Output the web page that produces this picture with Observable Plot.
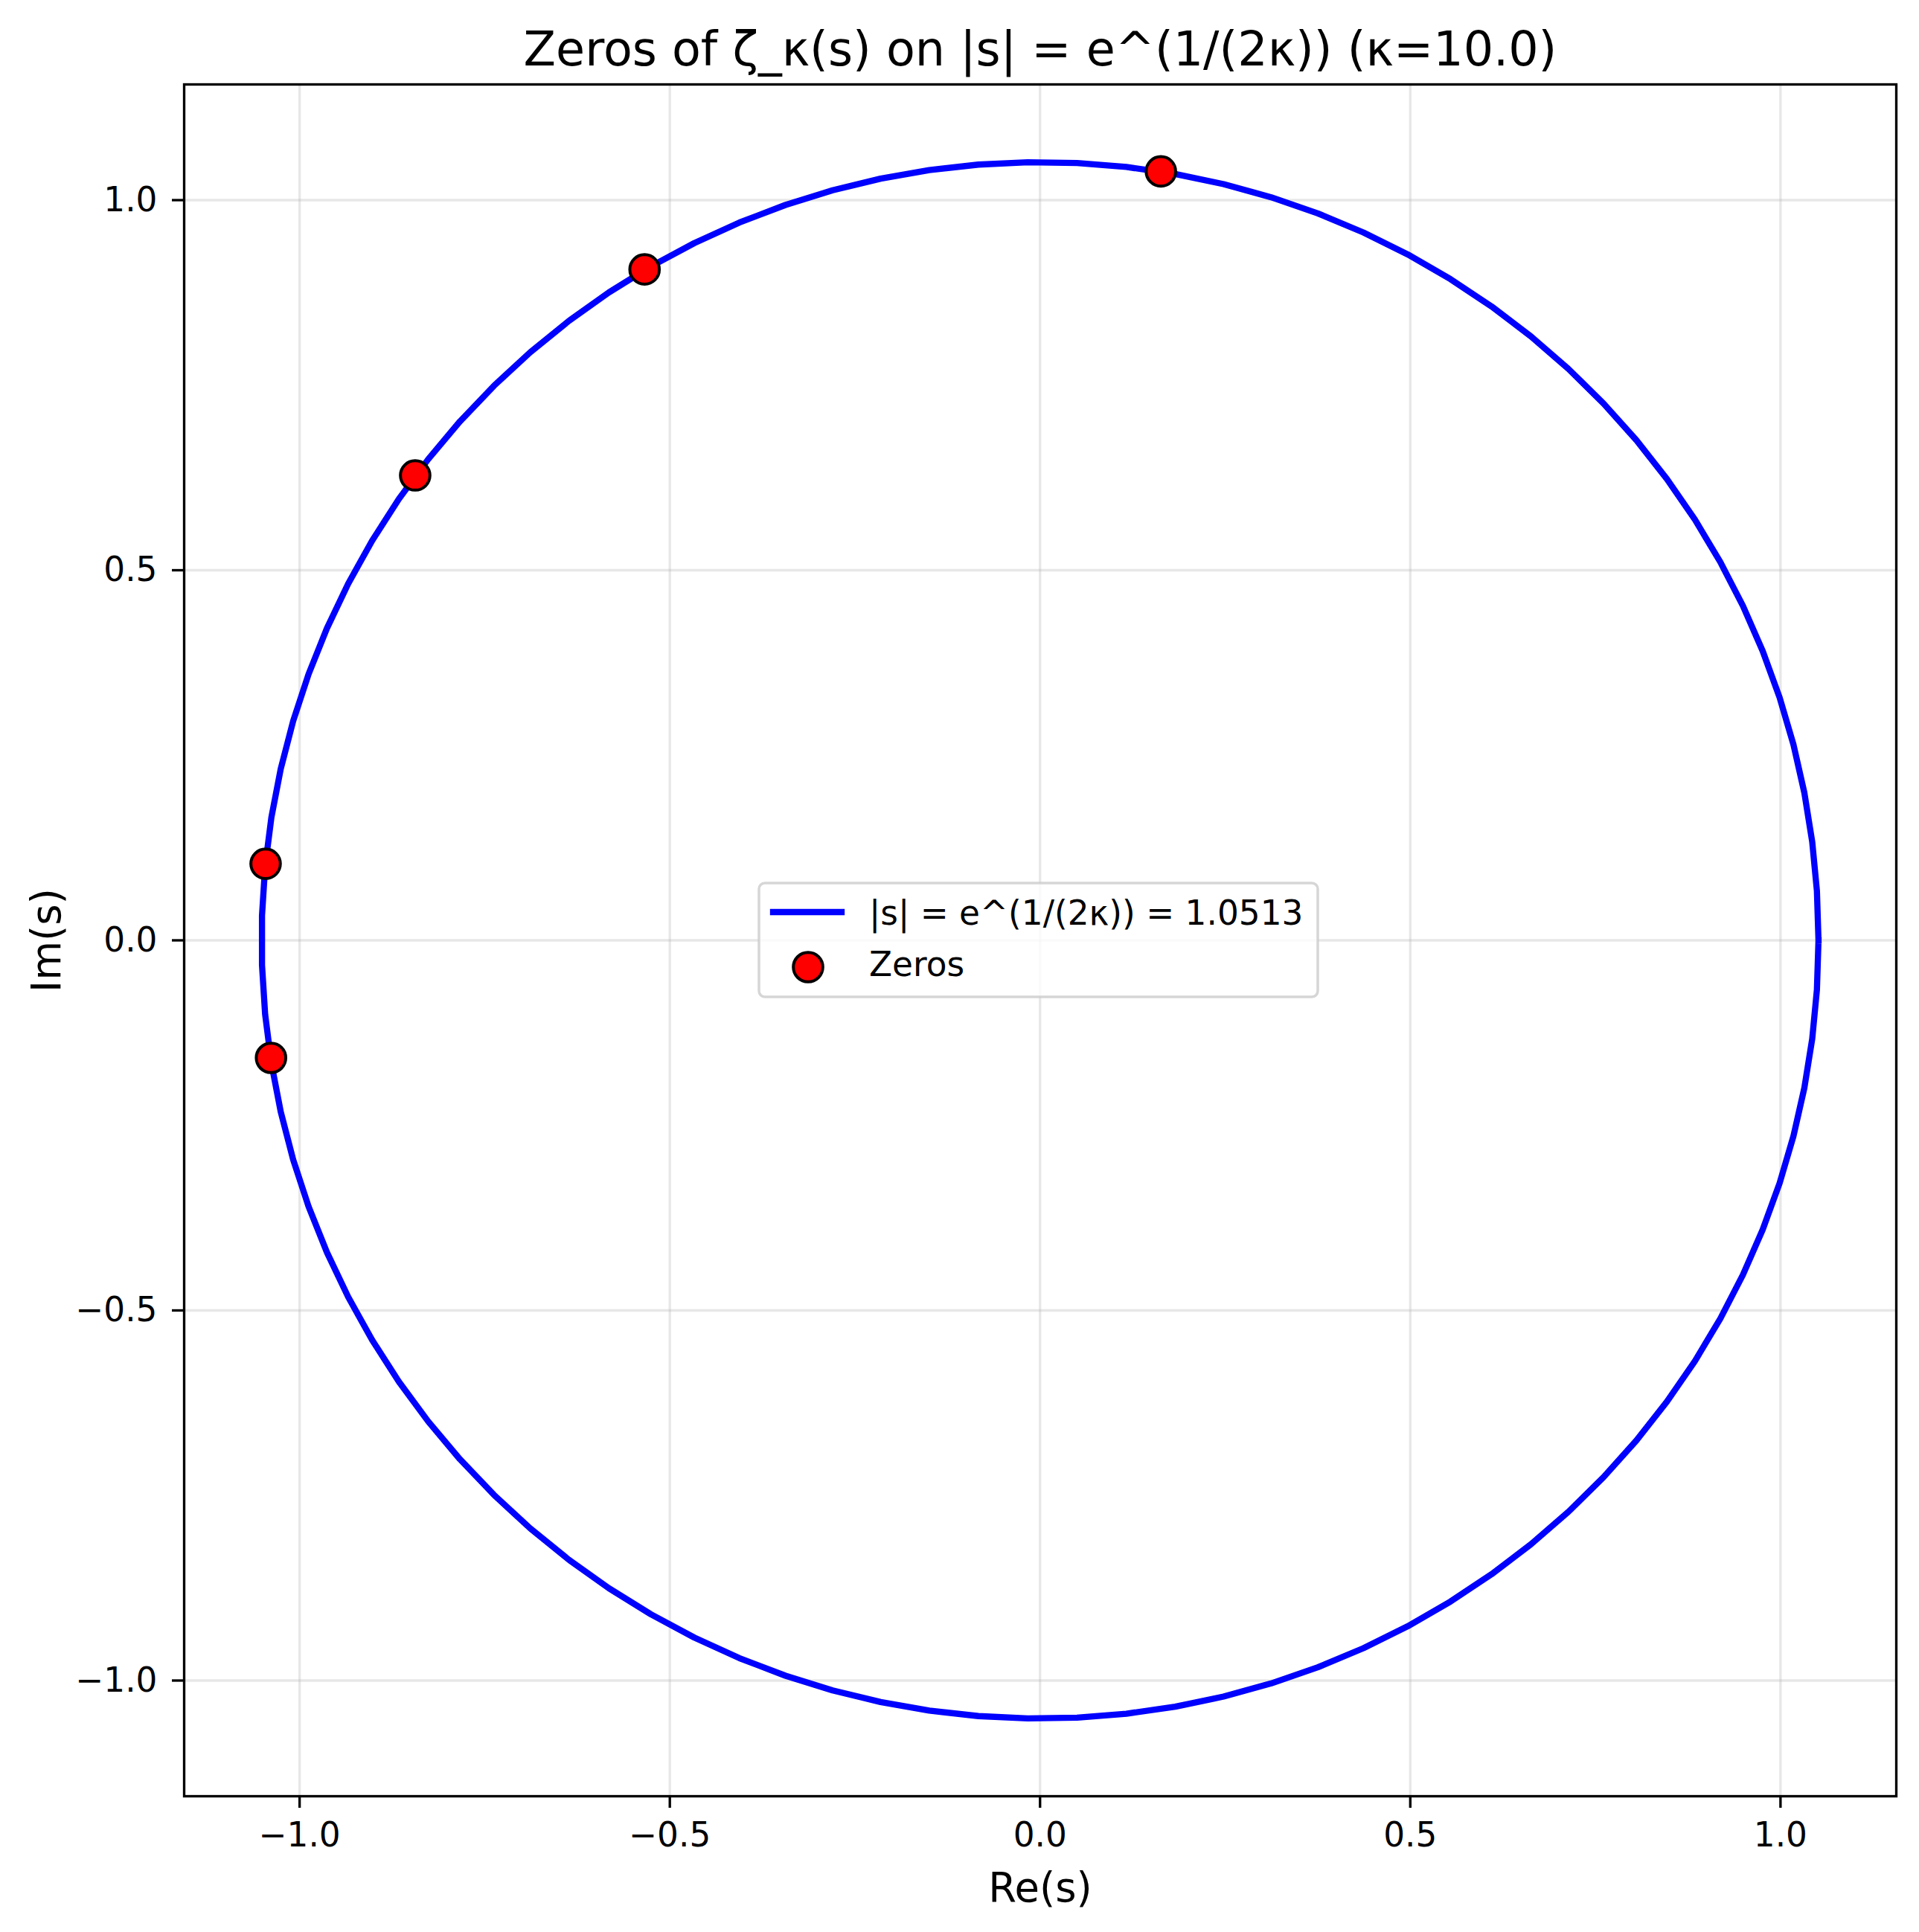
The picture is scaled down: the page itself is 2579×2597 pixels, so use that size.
<!DOCTYPE html>
<html>
<head>
<meta charset="utf-8">
<script src="https://cdn.jsdelivr.net/npm/d3@7"></script>
<script src="https://cdn.jsdelivr.net/npm/@observablehq/plot@0.6"></script>
<style>
html, body { margin: 0; padding: 0; background: #fff; }
#wrap { position: relative; width: 2579px; height: 2597px; font-family: "DejaVu Sans", sans-serif; }
</style>
</head>
<body>
<div id="wrap"></div>
<script>
// ---- data ----
const kappa = 10.0;
const radius = 1.0513;            // |s| = e^(1/(2κ)), as stated in the legend
const circleSamples = 100;        // vertices of the plotted circle polygon
const zeroRe = [0.1632, -0.5341, -0.8439, -1.0459, -1.0386];
const zeroIm = [1.0388, 0.9064, 0.6281, 0.1034, -0.1588];
const tickValues = [-1.0, -0.5, 0.0, 0.5, 1.0];
const xDomain = [-1.1559, 1.1564];
const yDomain = [-1.1563, 1.1563];
const titleText = "Zeros of ζ_κ(s) on |s| = e^(1/(2κ)) (κ=10.0)";
const xLabel = "Re(s)";
const yLabel = "Im(s)";
const legendLabels = ["|s| = e^(1/(2κ)) = 1.0513", "Zeros"];

// ---- tables ----
const circle = d3.range(circleSamples).map(i => {
  const t = 2 * Math.PI * i / (circleSamples - 1);
  return {re: radius * Math.cos(t), im: radius * Math.sin(t)};
});
const zeros = zeroRe.map((re, i) => ({re, im: zeroIm[i]}));

const W = 2579, H = 2597;
const fmt = d3.format(".1f");
const tickFont = 45.4, labelFont = 54.4, titleFont = 63.5;

const plot = Plot.plot({
  width: W, height: H,
  marginLeft: 247, marginRight: 31, marginTop: 113, marginBottom: 183,
  x: {domain: xDomain},
  y: {domain: yDomain},
  style: {fontFamily: "DejaVu Sans, sans-serif", fontSize: tickFont + "px", background: "white", color: "black"},
  marks: [
    Plot.gridX(tickValues, {stroke: "#b0b0b0", strokeOpacity: 0.3, strokeWidth: 3.3}),
    Plot.gridY(tickValues, {stroke: "#b0b0b0", strokeOpacity: 0.3, strokeWidth: 3.3}),
    Plot.line(circle, {x: "re", y: "im", stroke: "#0000ff", strokeWidth: 8.33, strokeLinejoin: "round", strokeLinecap: "square"}),
    Plot.dot(zeros, {x: "re", y: "im", r: 19.8, fill: "#ff0000", stroke: "black", strokeWidth: 4}),
    Plot.frame({stroke: "black", strokeWidth: 3.33}),
    Plot.axisX(tickValues, {tickFormat: fmt, tickSize: 16, tickPadding: 19, fontSize: tickFont, strokeWidth: 3.33, label: null}),
    Plot.axisY(tickValues, {tickFormat: fmt, tickSize: 16, tickPadding: 20, fontSize: tickFont, strokeWidth: 3.33, label: null}),
    Plot.text([titleText], {text: d => d, frameAnchor: "top", lineAnchor: "middle", textAnchor: "middle", dy: -46.3, fontSize: titleFont, fill: "black"}),
    Plot.text([xLabel], {text: d => d, frameAnchor: "bottom", lineAnchor: "middle", textAnchor: "middle", dy: 123.6, fontSize: labelFont, fill: "black"}),
    Plot.text([yLabel], {text: d => d, frameAnchor: "left", lineAnchor: "middle", textAnchor: "middle", dx: -184, rotate: -90, fontSize: labelFont, fill: "black"})
  ]
});
document.getElementById("wrap").appendChild(plot);

// ---- legend overlay (matplotlib-style box) ----
const lg = d3.select("#wrap").append("svg")
  .attr("width", W).attr("height", H)
  .style("position", "absolute").style("left", "0px").style("top", "0px")
  .style("pointer-events", "none");
lg.append("rect")
  .attr("x", 1020).attr("y", 1187).attr("width", 751).attr("height", 153).attr("rx", 8)
  .attr("fill", "white").attr("fill-opacity", 0.8)
  .attr("stroke", "#cccccc").attr("stroke-opacity", 0.8).attr("stroke-width", 3.5);
lg.append("line")
  .attr("x1", 1039).attr("x2", 1131).attr("y1", 1226).attr("y2", 1226)
  .attr("stroke", "#0000ff").attr("stroke-width", 8.33).attr("stroke-linecap", "square");
lg.append("circle")
  .attr("cx", 1086).attr("cy", 1300).attr("r", 19.8)
  .attr("fill", "#ff0000").attr("stroke", "black").attr("stroke-width", 4);
lg.selectAll("text.lab").data(legendLabels).join("text")
  .attr("class", "lab")
  .attr("x", 1168).attr("y", (d, i) => i === 0 ? 1243 : 1312)
  .attr("font-family", "DejaVu Sans, sans-serif").attr("font-size", tickFont).attr("fill", "black")
  .text(d => d);
</script>
</body>
</html>
